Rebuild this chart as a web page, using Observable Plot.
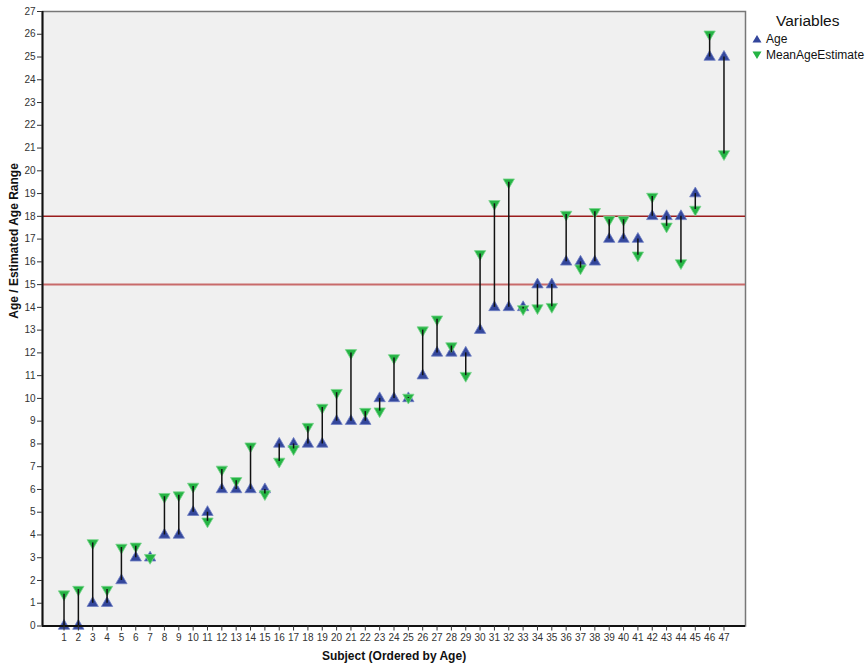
<!DOCTYPE html>
<html><head><meta charset="utf-8">
<script src="https://cdn.jsdelivr.net/npm/d3@7"></script>
<script src="https://cdn.jsdelivr.net/npm/@observablehq/plot@0.6"></script>
<style>
body{margin:0;background:#fff;font-family:"Liberation Sans",Arial,sans-serif;}
#wrap{position:relative;width:868px;height:666px;}
#legend{position:absolute;left:752px;top:11px;font-family:"Liberation Sans",Arial,sans-serif;color:#111;}
#legend .title{font-size:15.5px;margin-left:24px;line-height:20px;}
#legend .item{font-size:12px;height:16px;display:flex;align-items:center;}
#legend svg{margin-right:4px;}
</style></head>
<body><div id="wrap"><div id="legend"></div></div>
<script>
const ages = [0,0,1,1,2,3,3,4,4,5,5,6,6,6,6,8,8,8,8,9,9,9,10,10,10,11,12,12,12,13,14,14,14,15,15,16,16,16,17,17,17,18,18,18,19,25,25];
const estimates = [1.4,1.6,3.65,1.6,3.45,3.5,3.0,5.68,5.75,6.13,4.6,6.88,6.38,7.9,5.8,7.23,7.78,8.76,9.6,10.25,12.0,9.42,9.44,11.78,10.04,13.0,13.48,12.3,11.0,16.35,18.55,19.5,13.93,13.97,14.03,18.08,15.72,18.2,17.85,17.85,16.29,18.87,17.56,15.95,18.3,26.0,20.74];
const subjects = ages.map((_, i) => i + 1);
const yTicks = d3.range(0, 28);
const refLines = [18, 15];
const refColors = ["#9a1c1c", "#c86a6a"];
const seriesNames = ["Age", "MeanAgeEstimate"];
const seriesColors = ["#34479c", "#25b444"];

const data = subjects.map((s, i) => ({subject: s, age: ages[i], est: estimates[i]}));
const refs = refLines.map((v, i) => ({v, c: refColors[i]}));

const chart = Plot.plot({
  width: 868, height: 666,
  marginLeft: 42, marginRight: 123, marginTop: 11, marginBottom: 40.5,
  style: {fontFamily: "'Liberation Sans', Arial, sans-serif", background: "white"},
  x: {domain: [-0.5, 48.5]},
  y: {domain: [0, 27]},
  marks: [
    Plot.frame({fill: "#f0f0f0", stroke: "#777", strokeWidth: 1.5}),
    Plot.ruleY(refs, {y: "v", stroke: "c", strokeWidth: (d, i) => i === 0 ? 1.5 : 2}),
    Plot.dot(data, {x: "subject", y: "age", symbol: "triangle", r: 4.2, fill: seriesColors[0], stroke: "#7080c4", strokeWidth: 0.8}),
    Plot.dot(data, {x: "subject", y: "est", symbol: "triangle", rotate: 180, r: 4.2, fill: seriesColors[1], stroke: "#7ad48d", strokeWidth: 0.8}),
    Plot.ruleX(data, {x: "subject", y1: "age", y2: "est", stroke: "#111", strokeWidth: 1.5}),
    Plot.ruleX([-0.5], {stroke: "#111", strokeWidth: 2}),
    Plot.ruleY([0], {stroke: "#111", strokeWidth: 2}),
    Plot.axisY({ticks: yTicks, tickSize: 5, tickPadding: 2, fontSize: 10, label: null, color: "#333"}),
    Plot.axisX({ticks: subjects, tickSize: 5, tickPadding: 3, fontSize: 10, label: null, color: "#333"}),
    Plot.text(["Age / Estimated Age Range"], {frameAnchor: "left", rotate: -90, dx: -28, fontSize: 12, fontWeight: "bold", fill: "#111"}),
    Plot.text(["Subject (Ordered by Age)"], {frameAnchor: "bottom", dy: 34, fontSize: 12, fontWeight: "bold", fill: "#111"})
  ]
});
document.getElementById("wrap").prepend(chart);

const lg = document.getElementById("legend");
lg.innerHTML = `<div class="title">Variables</div>` + seriesNames.map((n, i) =>
  `<div class="item"><svg width="10" height="10" viewBox="-5 -5 10 10"><path d="${i === 0 ? "M0,-4L4.5,3.5L-4.5,3.5Z" : "M0,4L4.5,-3.5L-4.5,-3.5Z"}" fill="${seriesColors[i]}"/></svg>${n}</div>`).join("");
</script>
</body></html>
